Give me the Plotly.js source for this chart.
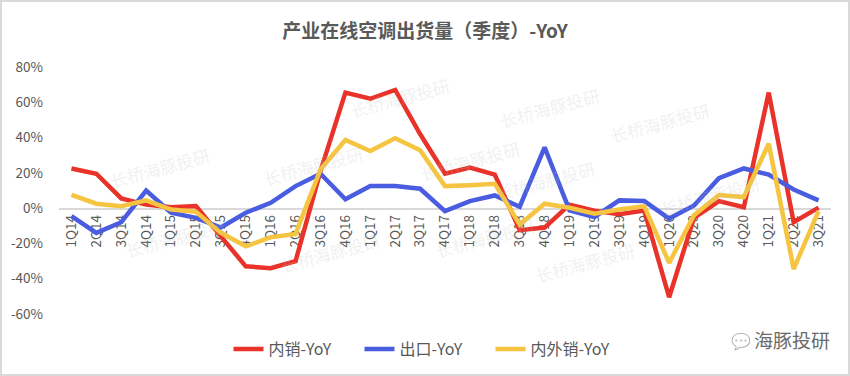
<!DOCTYPE html>
<html>
<head>
<meta charset="utf-8">
<script src="https://cdn.plot.ly/plotly-3.0.1.min.js"></script>
<style>
html,body{margin:0;padding:0;background:#fff;}
#wrap{position:relative;width:850px;height:376px;}
#chart{width:850px;height:376px;}
#frame{position:absolute;left:0;top:0;width:850px;height:376px;box-sizing:border-box;border:2px solid #d9d9d9;pointer-events:none;}
</style>
</head>
<body>
<div id="wrap"><div id="chart"></div><div id="frame"></div></div>
<script>
const categories = ["1Q14","2Q14","3Q14","4Q14","1Q15","2Q15","3Q15","4Q15","1Q16","2Q16","3Q16","4Q16","1Q17","2Q17","3Q17","4Q17","1Q18","2Q18","3Q18","4Q18","1Q19","2Q19","3Q19","4Q19","1Q20","2Q20","3Q20","4Q20","1Q21","2Q21","3Q21"];
const domesticYoY = [22.5,19.5,5.5,2,0.5,1.2,-16,-33,-34,-30,21,65.5,62,67,42,19.5,23,19,-12.5,-11,2,-1.5,-3.5,-1.3,-50.5,-5.5,4,0.5,65.5,-8,0.3];
const exportYoY = [-4.5,-14,-8,10,-2.6,-5.5,-11,-2.6,3,12.5,19.5,5,12.5,12.5,11,-1.7,4,7.2,0.8,34.5,-1.3,-5,4.4,4,-5.9,1.5,17,22.5,19,10.6,4.4];
const totalYoY = [7.5,2.5,1.1,4.4,-0.8,-2,-14,-21.6,-16.5,-14.6,22,38.6,32.4,39.6,32.8,12.5,13,13.8,-9.3,2.5,0.2,-3.2,-0.8,1.1,-31,-4,7.4,6.3,36.5,-34.5,-1.7];
const seriesNames = ["内销-YoY","出口-YoY","内外销-YoY"];
const yTicks = [-60,-40,-20,0,20,40,60,80];
const yTickLabels = ["-60%","-40%","-20%","0%","20%","40%","60%","80%"];
const watermarkText = "长桥海豚投研";

const colors = ["#E9332A","#4A5DE0","#F5C440"];
const font = "'Noto Sans CJK SC', 'Noto Sans', sans-serif";

const traces = [domesticYoY, exportYoY, totalYoY].map((vals, k) => ({
  type: "scatter", mode: "lines", x: categories, y: vals, name: seriesNames[k],
  line: {color: colors[k], width: 4.5, shape: "linear"},
  hoverinfo: "skip"
}));

const wmPos = [[105,140],[258,165],[400,70],[550,80],[715,95],[470,160],[600,180],[765,195],[485,265],[640,290],[120,265],[330,280]];
const annotations = wmPos.map(p => ({
  xref: "paper", yref: "paper",
  x: (p[0]-59)/772, y: (314-p[1])/247,
  text: watermarkText, showarrow: false, textangle: -15,
  font: {family: font, size: 17, color: "rgba(190,190,190,0.22)"}
}));
annotations.push({
  xref: "paper", yref: "paper", x: (792-59)/772, y: (314-340)/247,
  text: "海豚投研", showarrow: false, xanchor: "center", yanchor: "middle",
  font: {family: font, size: 19, color: "#6a6a6a"}
});
annotations.push({
  xref: "paper", yref: "paper", x: (741-59)/772, y: (314-340)/247,
  text: "💬", showarrow: false, xanchor: "center", yanchor: "middle",
  font: {family: font, size: 16, color: "#999"}, opacity: 0.35
});

const layout = {
  width: 850, height: 376,
  margin: {l: 59, r: 19, t: 67, b: 62},
  paper_bgcolor: "#fff", plot_bgcolor: "rgba(0,0,0,0)",
  font: {family: font, color: "#595959", size: 13},
  title: {
    text: "<b>产业在线空调出货量（季度）-YoY</b>",
    x: 0.5, xref: "container", xanchor: "center",
    y: 1 - 31/376, yref: "container", yanchor: "middle",
    font: {family: font, size: 19, color: "#595959"}
  },
  xaxis: {
    type: "category", tickangle: -90, anchor: "free", position: 60/140,
    showline: true, linecolor: "#d9d9d9", linewidth: 1.5,
    showgrid: false, zeroline: false, ticks: "", layer: "below traces",
    tickfont: {family: font, size: 13.5, color: "#595959"},
    range: [-0.5, categories.length - 0.5], fixedrange: true
  },
  yaxis: {
    range: [-60, 80], tickvals: yTicks, ticktext: yTickLabels,
    showgrid: false, zeroline: false, showline: false, ticks: "",
    ticklabelstandoff: 15,
    tickfont: {family: font, size: 13.5, color: "#595959"}, fixedrange: true
  },
  showlegend: true,
  legend: {
    orientation: "h", xref: "container", x: 0.5, xanchor: "center",
    yref: "container", y: 1 - 349/376, yanchor: "middle",
    font: {family: font, size: 16, color: "#595959"},
    itemwidth: 30, tracegroupgap: 0, entrywidth: 86, entrywidthmode: "pixels"
  },
  annotations: annotations
};

Plotly.newPlot("chart", traces, layout, {displayModeBar: false, staticPlot: true});
</script>
</body>
</html>
